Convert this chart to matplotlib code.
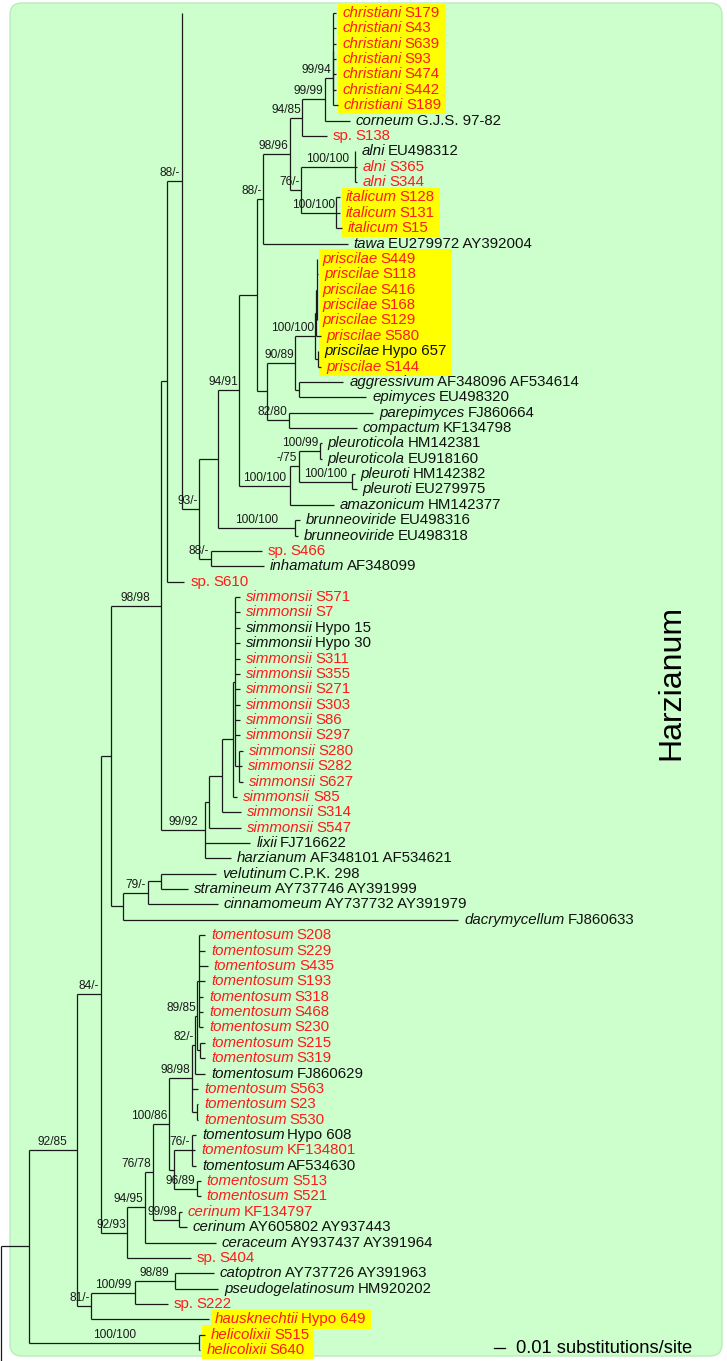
import matplotlib
matplotlib.use('Agg')
import matplotlib.pyplot as plt
from matplotlib.collections import LineCollection
from matplotlib.patches import Rectangle, FancyBboxPatch
from matplotlib.transforms import IdentityTransform

# ---- data: tree topology (newick pieces), branch lengths in substitutions/site,
# ---- support values (ML bootstrap / MP bootstrap) as internal node labels
christiani = ("((christiani|S179:0.0028,christiani|S43:0.0028,christiani|S639:0.0028,"
              "christiani|S93:0.0028,christiani|S474:0.0028,christiani|S442:0.0028):0.0005,"
              "christiani|S189:0.0047)99/94")
n_99_99 = f"({christiani}:0.0075,corneum|G.J.S. 97-82:0.0234)99/99"
n_94_85 = f"({n_99_99}:0.0210,sp.|S138:0.0229)94/85"
alni = "(alni|EU498312:0.0005,alni|S365:0.0019,alni|S344:0.0019)100/100"
italicum = "(italicum|S128:0.0034,italicum|S131:0.0034,italicum|S15:0.0052)100/100"
n_76 = f"({alni}:0.0499,{italicum}:0.0325)76/-"
n_98_96 = f"({n_94_85}:0.0117,{n_76}:0.0108)98/96"
clade_top = f"({n_98_96}:0.0247,tawa|EU279972 AY392004:0.0789)88/-"
priscilae = ("(((priscilae|S449:0.0,priscilae|S118:0.0014,priscilae|S416:0.0,priscilae|S168:0.0,"
             "priscilae|S129:0.0):0.0005,priscilae|S580:0.0042):0.0009,"
             "(priscilae|Hypo 657:0.0005,priscilae|S144:0.0028):0.0023)100/100")
n_90 = f"({priscilae}:0.0186,(aggressivum|AF348096 AF534614:0.0412,epimyces|EU498320:0.0629):0.0035)90/89"
n_82 = f"({n_90}:0.0261,(parepimyces|FJ860664:0.0790,compactum|KF134798:0.0636)82/80:0.0199)"
n_a1 = f"({clade_top}:0.0057,{n_82}:0.0095)"
pleurot = ("((pleuroticola|HM142381:0.0019,pleuroticola|EU918160:0.0019)100/99:0.0196,"
           "(pleuroti|HM142382:0.0021,pleuroti|EU279975:0.0040)100/100:0.0502)-/75")
n_pl = f"({pleurot}:0.0084,amazonicum|HM142377:0.0411)100/100"
n_94 = f"({n_a1}:0.0168,{n_pl}:0.0472)94/91"
n_b = f"({n_94}:0.0201,(brunneoviride|EU498316:0.0050,brunneoviride|EU498318:0.0031)100/100:0.0717)"
n_93 = f"({n_b}:0.0173,(sp.|S466:0.0477,inhamatum|AF348099:0.0500)88/-:0.0107)93/-"
n_88 = f"(_top:0.1,{n_93}:0.0164)88/-"
n_h1 = f"({n_88}:0.0140,sp.|S610:0.0165)"
simmonsii = ("(simmonsii|S571:0.0042,simmonsii|S7:0.0042,simmonsii|Hypo 15:0.0042,"
             "simmonsii|Hypo 30:0.0042,simmonsii|S311:0.0042,simmonsii|S355:0.0042,"
             "simmonsii|S271:0.0042,simmonsii|S303:0.0042,simmonsii|S86:0.0042,"
             "simmonsii|S297:0.0042,(simmonsii|S280:0.0037,simmonsii|S282:0.0028,"
             "simmonsii|S627:0.0037):0.0033)")
n_sim4 = f"({simmonsii}:0.0019,simmonsii|S85:0.0038)"
n_sim3 = f"({n_sim4}:0.0101,simmonsii|S314:0.0171)"
n_sim2 = f"({n_sim3}:0.0128,simmonsii|S547:0.0299)"
n_99_92 = f"({n_sim2}:0.0032,lixii|FJ716622:0.0421,harzianum|AF348101 AF534621:0.0237)99/92"
n_98_98 = f"({n_h1}:0.0056,{n_99_92}:0.0417)98/98"
n_b9 = ("(((velutinum|C.P.K. 298:0.0514,stramineum|AY737746 AY391999:0.0252):0.0117,"
        "cinnamomeum|AY737732 AY391979:0.0650)79/-:0.0238,dacrymycellum|FJ860633:0.3136)")
n_b7 = f"({n_98_98}:0.0467,{n_b9}:0.0112)"
tom_poly = ("(tomentosum|S208:0.0051,tomentosum|S229:0.0051,tomentosum|S435:0.0075,"
            "tomentosum|S193:0.0051,tomentosum|S318:0.0033,tomentosum|S468:0.0033,"
            "tomentosum|S230:0.0033)")
n_89 = f"({tom_poly}:0.0019,(tomentosum|S215:0.0047,tomentosum|S319:0.0047):0.0023)89/85"
n_82t = f"({n_89}:0.0019,tomentosum|FJ860629:0.0089)82/-"
n_98t = f"({n_82t}:0.0036,tomentosum|S563:0.0060,(tomentosum|S23:0.0009,tomentosum|S530:0.0009):0.0050)98/98"
n_at = ("((tomentosum|Hypo 608:0.0041,tomentosum|KF134801:0.0032,tomentosum|AF534630:0.0041)76/-:0.0164,"
        "(tomentosum|S513:0.0033,tomentosum|S521:0.0033)96/89:0.0215)")
n_100_86 = f"({n_98t}:0.0211,{n_at}:0.0047)100/86"
n_76_78 = f"({n_100_86}:0.0150,(cerinum|KF134797:0.0032,cerinum|AY605802 AY937443:0.0075)99/98:0.0239)76/78"
n_94_95 = f"({n_76_78}:0.0075,ceraceum|AY937437 AY391964:0.0664)94/95"
n_92_93 = f"({n_94_95}:0.0163,sp.|S404:0.0593)92/93"
n_84 = f"({n_b7}:0.0093,{n_92_93}:0.0249)84/-"
n_81 = ("(((catoptron|AY737726 AY391963:0.0360,pseudogelatinosum|HM920202:0.0402)98/89:0.0378,"
        "sp.|S222:0.0312)100/99:0.0404,hausknechtii|Hypo 649:0.1099)81/-")
n_92_85 = f"({n_84}:0.0224,{n_81}:0.0135)92/85"
n_b1 = f"({n_92_85}:0.0449,(helicolixii|S515:0.0051,helicolixii|S640:0.0009)100/100:0.1595)"
tree_newick = f"({n_b1}:0.0260,_bottom:0.1);"

# branches cut off in the original figure (row positions)
cut_rows = {'_top': -10.4, '_bottom': 95}

# reference sequences (black); all others are isolates of this study (red)
reference_seqs = ["corneum|G.J.S. 97-82", "alni|EU498312", "tawa|EU279972 AY392004",
                  "priscilae|Hypo 657", "aggressivum|AF348096 AF534614", "epimyces|EU498320",
                  "parepimyces|FJ860664", "compactum|KF134798", "pleuroticola|HM142381",
                  "pleuroticola|EU918160", "pleuroti|HM142382", "pleuroti|EU279975",
                  "amazonicum|HM142377", "brunneoviride|EU498316", "brunneoviride|EU498318",
                  "inhamatum|AF348099", "simmonsii|Hypo 15", "simmonsii|Hypo 30",
                  "lixii|FJ716622", "harzianum|AF348101 AF534621", "velutinum|C.P.K. 298",
                  "stramineum|AY737746 AY391999", "cinnamomeum|AY737732 AY391979",
                  "dacrymycellum|FJ860633", "tomentosum|FJ860629", "tomentosum|Hypo 608",
                  "tomentosum|AF534630", "cerinum|AY605802 AY937443",
                  "ceraceum|AY937437 AY391964", "catoptron|AY737726 AY391963",
                  "pseudogelatinosum|HM920202"]
highlighted = ["christiani", "italicum", "priscilae", "hausknechtii", "helicolixii"]
clade_name = "Harzianum"
scale_len = 0.01
scale_text = "0.01 substitutions/site"


def parse(s):
    pos = [0]

    def node():
        kids = []
        if s[pos[0]] == '(':
            pos[0] += 1
            while True:
                kids.append(node())
                c = s[pos[0]]
                pos[0] += 1
                if c == ')':
                    break
        st = pos[0]
        while s[pos[0]] not in ':,();':
            pos[0] += 1
        name = s[st:pos[0]]
        length = 0.0
        if s[pos[0]] == ':':
            pos[0] += 1
            st = pos[0]
            while s[pos[0]] not in ',();':
                pos[0] += 1
            length = float(s[st:pos[0]])
        return {'name': name, 'len': length, 'kids': kids}
    return node()


root = parse(tree_newick)
rows = [0]
tips = []


def layout(n, x0):
    n['x'] = x0 + n['len']
    n['px'] = x0
    if not n['kids']:
        if n['name'] in cut_rows:
            n['y'] = cut_rows[n['name']]
        else:
            n['y'] = rows[0]
            rows[0] += 1
            tips.append(n)
    else:
        for k in n['kids']:
            layout(k, n['x'])
        n['y'] = (n['kids'][0]['y'] + n['kids'][-1]['y']) / 2


layout(root, 0.0)

PX = 1070.0      # pixels per substitution/site
ROW = 15.37      # pixels per tip row
W, H = 727, 1361
fig = plt.figure(figsize=(W / 100, H / 100), dpi=100)
ax = fig.add_axes([0, 0, 1, 1])
ax.set_xlim(-1 / PX, (W - 1) / PX)
ax.set_ylim((H - 13) / ROW, -13 / ROW)
ax.axis('off')

bg = FancyBboxPatch((10, 5), 712, 1353, boxstyle="round,pad=0,rounding_size=12",
                    transform=IdentityTransform(), facecolor='#ccffcc',
                    edgecolor='#b8ecb8', lw=1, zorder=-5)
fig.add_artist(bg)

FONT = ['Liberation Sans', 'DejaVu Sans']
RED = '#ff1a1a'

segs = []
supports = []


def walk(n):
    if n['kids']:
        ys = [k['y'] for k in n['kids']]
        segs.append([(n['x'], max(min(ys), 0)), (n['x'], max(ys))])
        for k in n['kids']:
            if not k['name'].startswith('_'):
                segs.append([(n['x'], k['y']), (k['x'], k['y'])])
            walk(k)
        if n['name']:
            supports.append(n)


walk(root)
ax.add_collection(LineCollection(segs, colors='#1a1a1a', linewidths=0.9, zorder=2))

# support values
sup_texts = []
for n in supports:
    t = ax.text((n['px'] + n['x']) / 2, n['y'] - 2 / ROW, n['name'], ha='center',
                va='bottom', fontsize=8.6, family=FONT, color='#1a1a1a', zorder=3)
    sup_texts.append((t, n))

# tip labels
tip_texts = []
for n in tips:
    sp, code = n['name'].split('|')
    col = '#111111' if n['name'] in reference_seqs else RED
    style = 'normal' if sp == 'sp.' else 'italic'
    t1 = ax.text(n['x'] + 6 / PX, n['y'], sp, ha='left', va='center', fontsize=10.8,
                 family=FONT, style=style, color=col, zorder=4)
    t2 = ax.annotate(code, xy=(1, 0.5), xycoords=t1, xytext=(2.0, 0),
                     textcoords='offset points', ha='left', va='center',
                     fontsize=10.8, family=FONT, color=col, zorder=4)
    tip_texts.append((n, sp, t1, t2))

fig.canvas.draw()
r = fig.canvas.get_renderer()
inv = ax.transData.inverted()

for t, n in sup_texts:
    w = t.get_window_extent(r).width
    if w > (n['x'] - n['px']) * PX - 2:
        t.set_ha('right')
        t.set_x(n['x'] - 1.5 / PX)

# yellow boxes around highlighted groups
groups = []
for n, sp, t1, t2 in tip_texts:
    if sp in highlighted:
        if groups and groups[-1][0] == sp and groups[-1][1][-1][0]['y'] == n['y'] - 1:
            groups[-1][1].append((n, t1, t2))
        else:
            groups.append((sp, [(n, t1, t2)]))
for sp, items in groups:
    left = min(t1.get_window_extent(r).x0 for _, t1, _ in items) - 4
    right = max(t2.get_window_extent(r).x1 for _, _, t2 in items) + 5
    x0 = inv.transform((left, 0))[0]
    x1 = inv.transform((right, 0))[0]
    y0 = items[0][0]['y'] - 0.62
    y1 = items[-1][0]['y'] + 0.6
    ax.add_patch(Rectangle((x0, y0), x1 - x0, y1 - y0, facecolor='#ffff00',
                           edgecolor='none', zorder=1))

ax.text(670 / PX, (682 - 13) / ROW, clade_name, rotation=90, ha='center', va='center',
        fontsize=23, family=FONT, color='black')

sx = (494 - 1) / PX
sy = (1348 - 13) / ROW
ax.plot([sx, sx + scale_len], [sy, sy], color='black', lw=0.9)
ax.text(sx + scale_len + 11 / PX, sy, scale_text, ha='left', va='center',
        fontsize=13.2, family=FONT, color='black')

fig.savefig('out.png', dpi=100)
